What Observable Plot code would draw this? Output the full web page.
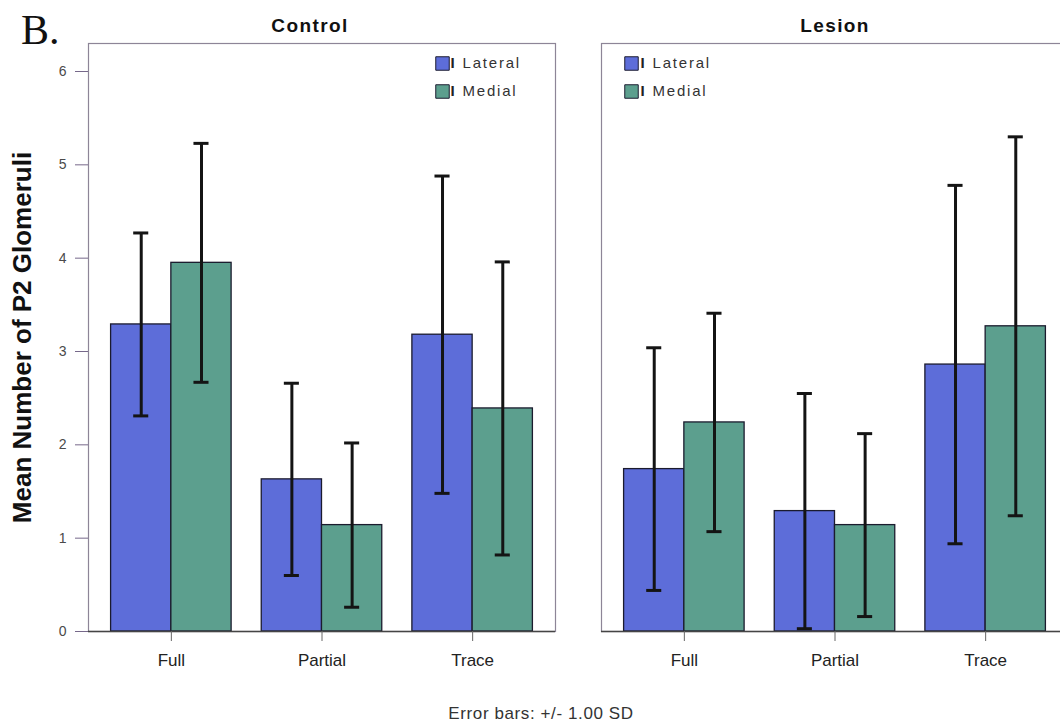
<!DOCTYPE html>
<html>
<head>
<meta charset="utf-8">
<script src="https://cdn.jsdelivr.net/npm/d3@7"></script>
<script src="https://cdn.jsdelivr.net/npm/@observablehq/plot@0.6"></script>
<style>
html, body { margin: 0; padding: 0; background: #fff; overflow: hidden; }
#wrap { position: relative; width: 1060px; height: 725px; overflow: hidden; font-family: "Liberation Sans", Arial, sans-serif; }
#chart { position: absolute; left: 0; top: 0; width: 1068px; }
#chart svg { max-width: none !important; }
#tag { position: absolute; left: 21px; top: 9px; font: 42px/42px "Liberation Serif", "Times New Roman", serif; color: #111; }
#caption { position: absolute; left: 0; top: 705px; width: 1082px; text-align: center; font: 17px/17px "Liberation Sans", Arial, sans-serif; letter-spacing: 0.6px; color: #333; }
</style>
</head>
<body>
<div id="wrap">
  <div id="chart"></div>
  <div id="tag">B.</div>
  <div id="caption">Error bars: +/- 1.00 SD</div>
</div>
<script>
// ---- data ----
const panels = ["Control", "Lesion"];
const categories = ["Full", "Partial", "Trace"];
const series = ["Lateral", "Medial"];
const seriesColors = ["#5d6dd9", "#5c9f8e"];

const meanControlLateral = [3.29, 1.63, 3.18];
const meanControlMedial  = [3.95, 1.14, 2.39];
const meanLesionLateral  = [1.74, 1.29, 2.86];
const meanLesionMedial   = [2.24, 1.14, 3.27];

const sdControlLateral = [0.98, 1.03, 1.70];
const sdControlMedial  = [1.28, 0.88, 1.57];
const sdLesionLateral  = [1.30, 1.26, 1.92];
const sdLesionMedial   = [1.17, 0.98, 2.03];

const yTicks = [0, 1, 2, 3, 4, 5, 6];
const yLabel = "Mean Number of P2 Glomeruli";

// ---- table built from the arrays ----
const means = {Control: {Lateral: meanControlLateral, Medial: meanControlMedial},
               Lesion:  {Lateral: meanLesionLateral,  Medial: meanLesionMedial}};
const sds   = {Control: {Lateral: sdControlLateral, Medial: sdControlMedial},
               Lesion:  {Lateral: sdLesionLateral,  Medial: sdLesionMedial}};

const barWidth = 0.4;   // in category units
const capHalf = 0.05;
const rows = [];
for (const panel of panels) {
  categories.forEach((category, ci) => {
    series.forEach((s, si) => {
      const x1 = ci - barWidth + si * barWidth;
      rows.push({
        panel, category, series: s,
        x1, x2: x1 + barWidth, xc: x1 + barWidth / 2,
        mean: means[panel][s][ci], sd: sds[panel][s][ci]
      });
    });
  });
}

// legend marks (inside each panel)
const legendMarks = [];
const legendSpec = {
  Control: {anchor: "top-right", sw: -113, bar: -103, txt: -93},
  Lesion:  {anchor: "top-left",  sw: 30,   bar: 41,   txt: 51}
};
for (const panel of panels) {
  const L = legendSpec[panel];
  series.forEach((s, i) => {
    const d = [{panel, series: s}];
    const dy = 20 + i * 28;
    legendMarks.push(
      Plot.dot(d, {fx: "panel", frameAnchor: L.anchor, dx: L.sw, dy, symbol: "square", r: 7.6,
                   fill: "series", stroke: "#1c1c30", strokeWidth: 1}),
      Plot.text(d, {fx: "panel", frameAnchor: L.anchor, dx: L.bar, dy, text: () => "I",
                    fontWeight: "bold", fontSize: 15, fill: "#222", textAnchor: "middle", lineAnchor: "middle"}),
      Plot.text(d, {fx: "panel", frameAnchor: L.anchor, dx: L.txt, dy, text: "series",
                    fontSize: 15, fill: "#333", textAnchor: "start", lineAnchor: "middle"})
    );
  });
}

// panel titles (Control sits a little left of its panel centre in the reference)
const titleShift = {Control: -12, Lesion: 0};
const titleMarks = panels.map(panel =>
  Plot.text([{panel}], {fx: "panel", text: "panel", frameAnchor: "top", dy: -18, dx: titleShift[panel],
                        lineAnchor: "middle", fontSize: 19, fontWeight: "bold", fill: "#111"})
);

const chart = Plot.plot({
  width: 1068,
  height: 690,
  marginTop: 43,
  marginBottom: 59,
  marginLeft: 88,
  marginRight: 0,
  style: {fontFamily: "'Liberation Sans', Arial, sans-serif", background: "#fff", color: "#333", maxWidth: "none"},
  fx: {domain: panels, paddingInner: 46 / 513, paddingOuter: 0, axis: null},
  x: {domain: [-0.55, 2.55]},
  y: {domain: [0, 6.3]},
  color: {domain: series, range: seriesColors},
  marks: [
    Plot.frame({stroke: "#8d8597", strokeWidth: 1.2}),
    Plot.rectY(rows, {fx: "panel", x1: "x1", x2: "x2", y: "mean", fill: "series",
                      stroke: "#1b1b2e", strokeWidth: 1.3}),
    Plot.ruleY([0], {stroke: "#454545", strokeWidth: 1.3}),
    Plot.ruleX(rows, {fx: "panel", x: "xc", y1: d => d.mean - d.sd, y2: d => d.mean + d.sd,
                      stroke: "#141414", strokeWidth: 3}),
    Plot.ruleY(rows, {fx: "panel", x1: d => d.xc - capHalf, x2: d => d.xc + capHalf,
                      y: d => d.mean + d.sd, stroke: "#141414", strokeWidth: 3}),
    Plot.ruleY(rows, {fx: "panel", x1: d => d.xc - capHalf, x2: d => d.xc + capHalf,
                      y: d => Math.max(0, d.mean - d.sd), stroke: "#141414", strokeWidth: 3}),
    Plot.axisY({ticks: yTicks, tickFormat: d => String(d), tickSize: 13, tickPadding: 9,
                fontSize: 14, fill: "#4a4a4a", stroke: "#76688a", label: null}),
    Plot.axisX({ticks: [0, 1, 2], tickFormat: i => categories[i], tickSize: 10, tickPadding: 12,
                fontSize: 17, fill: "#222", stroke: "#666", label: null}),
    ...titleMarks,
    Plot.text([{panel: "Control"}], {fx: "panel", text: () => yLabel, frameAnchor: "left",
                          textAnchor: "middle", lineAnchor: "middle",
                          rotate: -90, dx: -66, fontSize: 26, fontWeight: "bold", fill: "#111"}),
    ...legendMarks
  ]
});
document.getElementById("chart").appendChild(chart);

// letter spacing for the stretched-looking titles and legend labels of the reference
d3.select(chart).selectAll("text").each(function () {
  const t = this.textContent;
  if (panels.includes(t)) this.style.letterSpacing = "1.4px";
  if (series.includes(t)) this.style.letterSpacing = "1.8px";
});
</script>
</body>
</html>
